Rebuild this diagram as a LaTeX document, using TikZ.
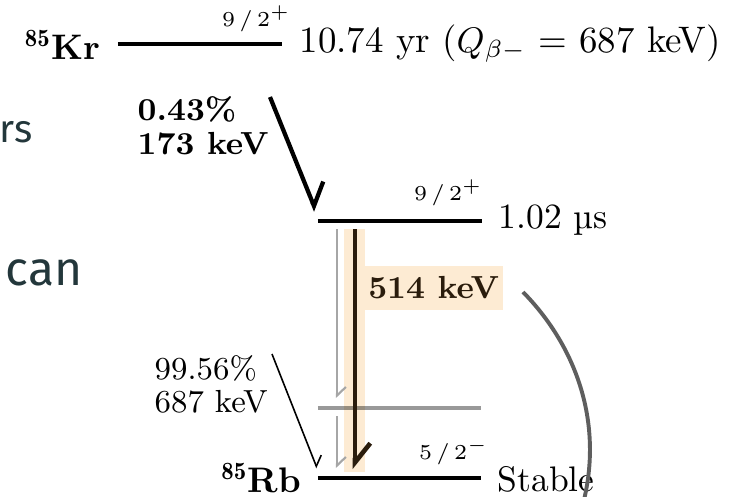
\documentclass[tikz,border=0pt]{standalone}
\usepackage{amsmath}
\usepackage{fontspec}
\newfontfamily\slidefont{Fira Sans}
\usetikzlibrary{arrows.meta}

\definecolor{slideteal}{HTML}{23373B}
\definecolor{gammadark}{HTML}{2A1C0C}
\definecolor{glow}{HTML}{FDEBD3}
\definecolor{hookgray}{HTML}{5E5E5E}

\tikzset{
  level/.style={line width=1.4pt},
  ghostlevel/.style={line width=1.3pt, black, opacity=0.4},
  betathick/.style={line width=1.2pt, -{Straight Barb[left,length=5.4pt,width=10pt]}},
  betathin/.style={line width=0.45pt, -{Straight Barb[left,length=2.4pt,width=4.9pt]}},
  gammaline/.style={line width=1.3pt, gammadark, -{Straight Barb[left,length=5.4pt,width=8.6pt]}},
  ghostgamma/.style={line width=0.6pt, black!35, -{Straight Barb[left,length=2.4pt,width=5pt]}},
  spin/.style={font=\fontsize{6.5}{7}\selectfont, inner sep=0pt},
  lbl/.style={inner sep=0pt},
  branch/.style={inner sep=0pt, align=left}
}

\begin{document}
\begin{tikzpicture}[x=0.2817pt,y=-0.2817pt]
  \useasboundingbox (0,0) rectangle (729,496);
  \clip (0,0) rectangle (729,496);

  % leftover slide text
  \node[lbl, anchor=base east, text=slideteal, font=\slidefont\fontsize{11}{13}\selectfont] (wordrs) at (33,142) {rs};
  \node[lbl, anchor=base west, text=slideteal, font=\slidefont\fontsize{13.5}{16}\selectfont] (wordcan) at (5,285) {can};

  % levels
  \coordinate (krL) at (118,44);  \coordinate (krR) at (282,44);
  \coordinate (midL) at (318,221); \coordinate (midR) at (482,221);
  \coordinate (greyL) at (318,408); \coordinate (greyR) at (481,408);
  \coordinate (rbL) at (318,478); \coordinate (rbR) at (481,478);

  \fill[glow] (344,229) rectangle (365,472);

  \draw[level] (krL) -- (krR);
  \draw[level] (midL) -- (midR);
  \draw[level] (rbL) -- (rbR);

  \node[lbl, anchor=base east] (kr) at (101,59) {$^{\mathbf{85}}$\textbf{Kr}};
  \node[spin, anchor=base east] (krspin) at (291,26) {$9\,/\,2^{+}$};
  \node[lbl, anchor=base west, font=\fontsize{10.4}{12}\selectfont] (krlife) at (299,52) {10.74 yr ($Q_{\beta-}$ = 687 keV)};

  \node[spin, anchor=base east] (midspin) at (483,200) {$9\,/\,2^{+}$};
  \node[lbl, anchor=base west] (midlife) at (498,228) {1.02 µs};

  \node[lbl, anchor=base east] (rb) at (302,492) {$^{\mathbf{85}}$\textbf{Rb}};
  \node[spin, anchor=base east] (rbspin) at (489,459) {$5\,/\,2^{-}$};
  \node[lbl, anchor=base west] (rblife) at (497,491) {Stable};

  % beta branches
  \coordinate (bA) at (270,97);  \coordinate (bB) at (316,211);
  \coordinate (cA) at (272,354); \coordinate (cB) at (317,468);
  \draw[betathick] (bA) -- (bB);
  \draw[betathin] (cA) -- (cB);
  \node[branch, anchor=west, font=\fontsize{9}{9.6}\selectfont\bfseries] (minor) at (137,126) {0.43\%\\173 keV};
  \node[branch, anchor=west, font=\fontsize{9}{9.3}\selectfont] (major) at (154,384) {99.56\%\\687 keV};

  % gamma lines
  \coordinate (gA) at (337,229); \coordinate (gB) at (337,398);
  \coordinate (gC) at (337,416); \coordinate (gD) at (337,468);
  \draw[ghostgamma] (gA) -- (gB);
  \draw[ghostgamma] (gC) -- (gD);
  \draw[ghostlevel] (greyL) -- (greyR);
  \coordinate (tA) at (355,229); \coordinate (tB) at (355,469);
  \draw[gammaline] (tA) -- (tB);
  \node[lbl, anchor=west, fill=glow, inner xsep=1pt, inner ysep=3pt, text=gammadark,
        font=\fontsize{9}{10}\selectfont\bfseries] (gammalbl) at (364,288) {514 keV};

  % pointer
  \coordinate (hookA) at (523,292); \coordinate (hookB) at (584,500);
  \draw[hookgray, line width=1.1pt] (hookA) .. controls (575,345) and (603,420) .. (hookB);
\end{tikzpicture}
\end{document}
